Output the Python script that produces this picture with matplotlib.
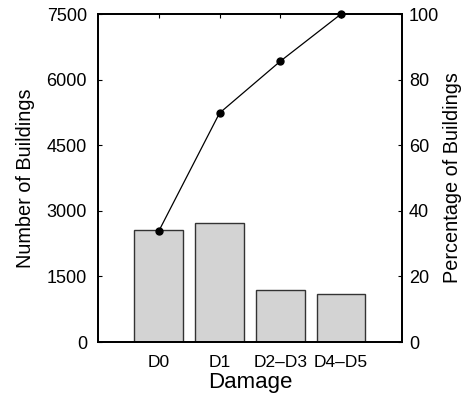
import matplotlib.pyplot as plt

plt.rcParams['font.family'] = ['Liberation Sans', 'DejaVu Sans']

categories = ["D0", "D1", "D2\u2013D3", "D4\u2013D5"]
counts = [2550, 2710, 1200, 1100]
cum_pct = [33.8, 69.8, 85.6, 100.0]
count_ticks = [0, 1500, 3000, 4500, 6000, 7500]
pct_ticks = [0, 20, 40, 60, 80, 100]

fig = plt.figure(figsize=(4.7, 3.97), dpi=100)
ax = fig.add_axes([0.2085, 0.1385, 0.6465, 0.8262])
pos = list(range(1, len(categories) + 1))

ax.bar(pos, counts, width=0.8, color='#d3d3d3', edgecolor='#333333', linewidth=1.0, zorder=2)
ax.set_xlim(0, 5)
ax.set_ylim(0, 7500)
ax.set_yticks(count_ticks)
ax.set_xticks(pos)
ax.set_xticklabels(categories, fontsize=12.5)
ax.tick_params(axis='y', direction='in', length=3, labelsize=13, pad=8)
ax.tick_params(axis='x', direction='in', length=3, top=True, bottom=False, pad=9)
ax.set_xlabel("Damage", fontsize=16, labelpad=2)
ax.set_ylabel("Number of Buildings", fontsize=14.3, labelpad=8.5)

ax2 = ax.twinx()
ax2.plot(pos, cum_pct, color='black', linewidth=0.9, marker='o', markersize=5, zorder=3, clip_on=False)
ax2.set_ylim(0, 100)
ax2.set_yticks(pct_ticks)
ax2.tick_params(axis='y', direction='in', length=3, labelsize=13, pad=5)
ax2.set_ylabel("Percentage of Buildings", fontsize=14.3, labelpad=3)

for a in (ax, ax2):
    for s in a.spines.values():
        s.set_linewidth(1.3)

fig.savefig("out.png", dpi=100)
